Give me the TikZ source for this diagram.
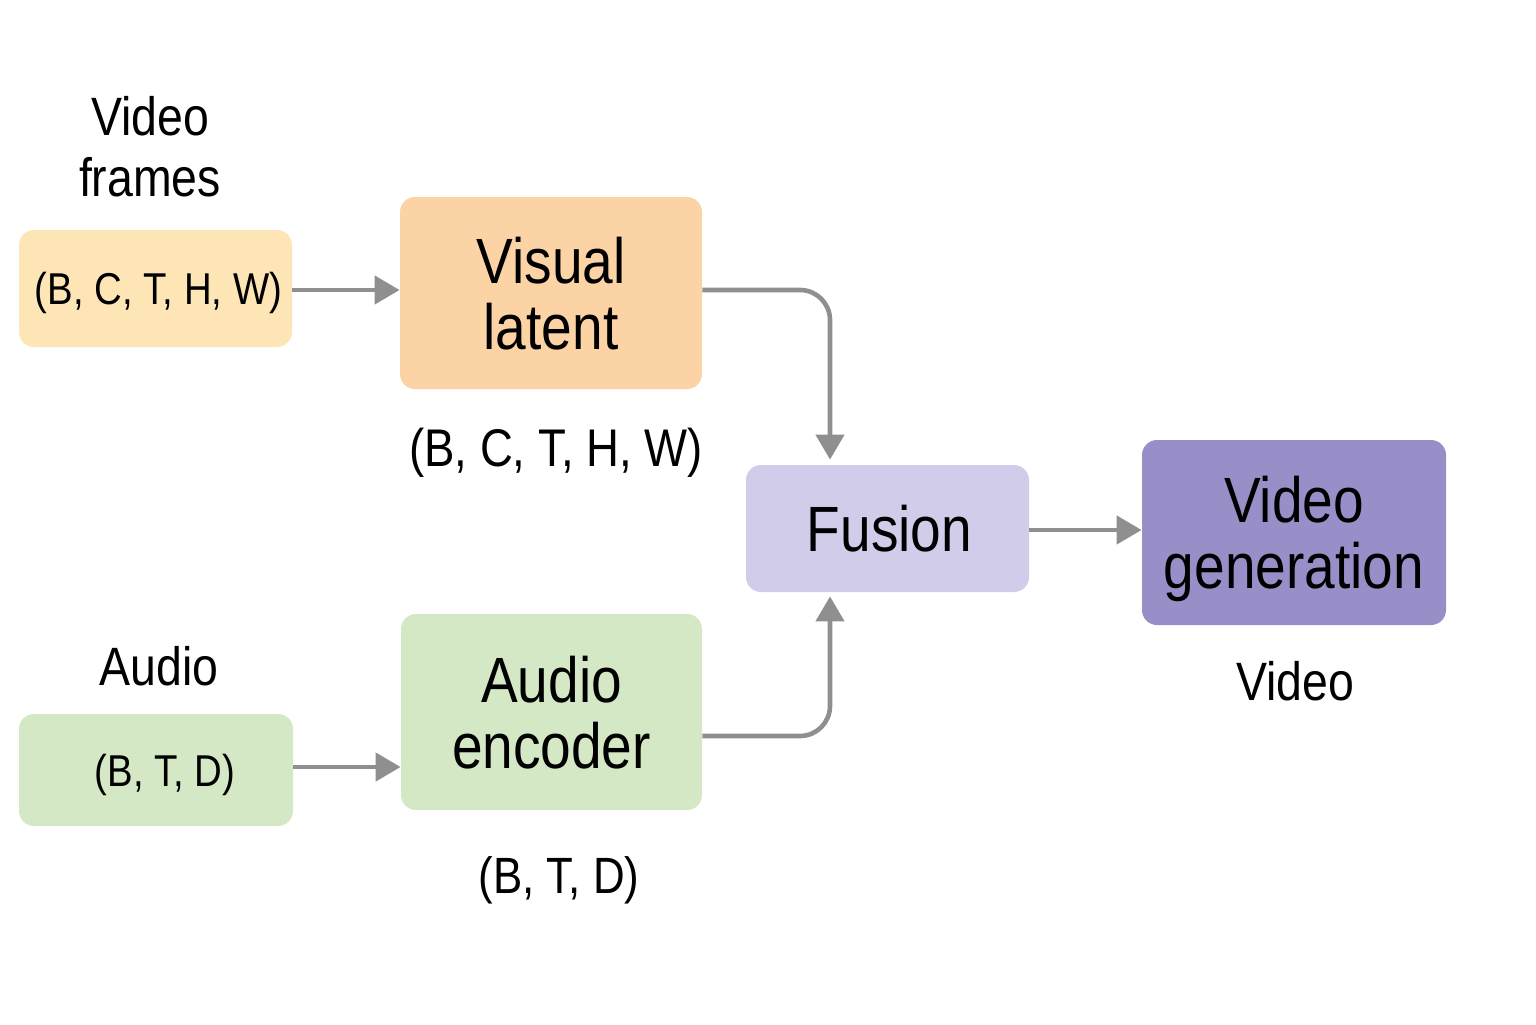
\documentclass[tikz,border=0pt]{standalone}
\usepackage{fontspec}
\setmainfont{Liberation Sans}[FakeStretch=0.86]
\usetikzlibrary{arrows.meta,calc}
\definecolor{cyel}{HTML}{FDE5B5}
\definecolor{corg}{HTML}{FBD3A5}
\definecolor{clav}{HTML}{D1CCE9}
\definecolor{cpur}{HTML}{998FC8}
\definecolor{cgrn}{HTML}{D5E8C5}
\definecolor{carr}{HTML}{8F8F8F}
\tikzset{
  box/.style={rounded corners=7.5pt, draw=none, align=center, inner sep=0pt, text depth=0pt},
  big/.style={font=\fontsize{32}{33}\selectfont},
  lab/.style={font=\fontsize{27}{30.5}\selectfont, align=center, inner sep=0pt},
  dims/.style={font=\fontsize{26.5}{30}\selectfont, inner sep=0pt, anchor=base},
  arr/.style={draw=carr, line width=2.3pt, -{Triangle[length=12.5pt,width=14pt]}},
}
\begin{document}
\begin{tikzpicture}[x=0.5pt,y=-0.5pt]
\useasboundingbox (0,0) rectangle (1536,1024);
% boxes
\node[box, fill=cyel, minimum width=136.5pt, minimum height=58.5pt, font=\fontsize{22.3}{26}\selectfont] (vf) at (155.5,288.5) {\hspace*{3pt}(B, C, T, H, W)};
\node[box, big, fill=corg, minimum width=151pt, minimum height=96pt] (vl) at (551,293) {Visual\\latent};
\node[box, big, fill=clav, minimum width=141.5pt, minimum height=63.5pt] (fu) at (887.5,528.5) {\hspace*{2pt}Fusion};
\node[box, big, fill=cpur, minimum width=152pt, minimum height=92.5pt] (vg) at (1294,532.5) {Video\\generation};
\node[box, fill=cgrn, minimum width=137pt, minimum height=56pt, font=\fontsize{22.3}{26}\selectfont] (ab) at (156,770) {\hspace*{9pt}(B, T, D)};
\node[box, big, fill=cgrn, minimum width=150.5pt, minimum height=98pt] (ae) at (551.5,712) {Audio\\encoder};
% labels
\node[lab] (lvf) at (150,147) {Video\\frames};
\node[lab, anchor=base] (lau) at (159,685) {Audio};
\node[dims] (dvl) at (556,466) {(B, C, T, H, W)};
\node[dims, font=\fontsize{25.5}{30}\selectfont] (dae) at (559,893) {(B, T, D)};
\node[lab, anchor=base] (dvg) at (1295,700) {Video};
% connectors
\draw[arr] ([yshift=-0.75pt]vf.east) -- ([yshift=-0.75pt]vf.east -| vl.west);
\draw[arr] ([yshift=1.5pt]ab.east) -- ([yshift=1.5pt]ab.east -| ae.west);
\draw[arr, rounded corners=15pt, shorten >=2.5pt] ([yshift=1.5pt]vl.east) -| ($(fu.north)+(-57.5,0)$);
\draw[arr, rounded corners=15pt, shorten >=2pt] ([yshift=-12pt]ae.east) -| ($(fu.south)+(-57.5,0)$);
\draw[arr] ([yshift=-0.75pt]fu.east) -- ([yshift=-0.75pt]fu.east -| vg.west);
\end{tikzpicture}
\end{document}
